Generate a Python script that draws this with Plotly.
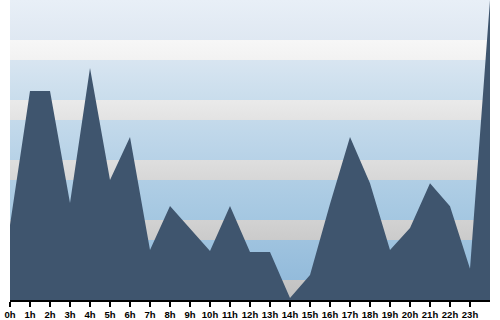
import plotly.graph_objects as go

hours = list(range(25))
tick_vals = list(range(24))
tick_text = [f"{h}h" for h in tick_vals]
values = [3.18, 9.03, 9.03, 4.14, 10.03, 5.15, 7.02, 2.09, 4.01, 3.05, 2.05, 4.01, 2.0,
          2.0, 0.0, 1.0, 4.1, 7.02, 5.0, 2.09, 3.05, 5.0, 4.0, 1.27, 13.0]

Y_MIN, Y_MAX = -0.09, 13.0
H = 300.0

def px2y(p):
    return Y_MAX - (Y_MAX - Y_MIN) * p / H

# background bands (pixel rows of a 300px plot, top colour, bottom colour)
bands = [
    (0, 40, "#e8eff7", "#dfe8f2"),
    (40, 60, "#f7f7f7", "#f2f2f2"),
    (60, 100, "#d8e5f1", "#c9ddec"),
    (100, 120, "#eaeaea", "#e3e3e3"),
    (120, 160, "#c4daeb", "#b7d2e7"),
    (160, 180, "#dedede", "#d7d7d7"),
    (180, 220, "#b0cee5", "#a4c7e1"),
    (220, 240, "#d2d2d2", "#cbcbcb"),
    (240, 280, "#9fc3df", "#93bbdb"),
    (280, 300, "#c6c6c6", "#c0c0c0"),
]

fig = go.Figure()
for top, bot, c1, c2 in bands:
    yt, yb = px2y(top), px2y(bot)
    fig.add_trace(go.Scatter(
        x=[0, 24, 24, 0, 0], y=[yb, yb, yt, yt, yb], mode="lines", fill="toself",
        line=dict(width=0), hoverinfo="skip", showlegend=False,
        fillgradient=dict(type="vertical", colorscale=[[0, c2], [1, c1]],
                          start=yb, stop=yt)))

fig.add_trace(go.Scatter(x=hours, y=[Y_MIN] * len(hours), mode="lines",
                         line=dict(width=0), hoverinfo="skip", showlegend=False))
fig.add_trace(go.Scatter(x=hours, y=values, mode="lines", fill="tonexty",
                         line=dict(width=0, color="#3f556e"), fillcolor="#3f556e",
                         showlegend=False))

fig.update_layout(
    width=500, height=320,
    margin=dict(l=10, r=10, t=0, b=20, autoexpand=False),
    paper_bgcolor="white", plot_bgcolor="rgba(0,0,0,0)",
    font=dict(family="Liberation Sans, Arial, sans-serif", size=10, color="black"),
    xaxis=dict(range=[0, 24], tickvals=tick_vals, ticktext=tick_text,
               showgrid=False, zeroline=False, showline=True, linecolor="black",
               linewidth=2, ticks="outside", ticklen=5, tickwidth=2, tickcolor="black",
               tickangle=0, automargin=False,
               tickfont=dict(size=9.5, family="Liberation Sans, Arial, sans-serif",
                             weight="bold")),
    yaxis=dict(range=[Y_MIN, Y_MAX], visible=False, showgrid=False, zeroline=False,
               automargin=False),
)

fig.write_html("out.html")
